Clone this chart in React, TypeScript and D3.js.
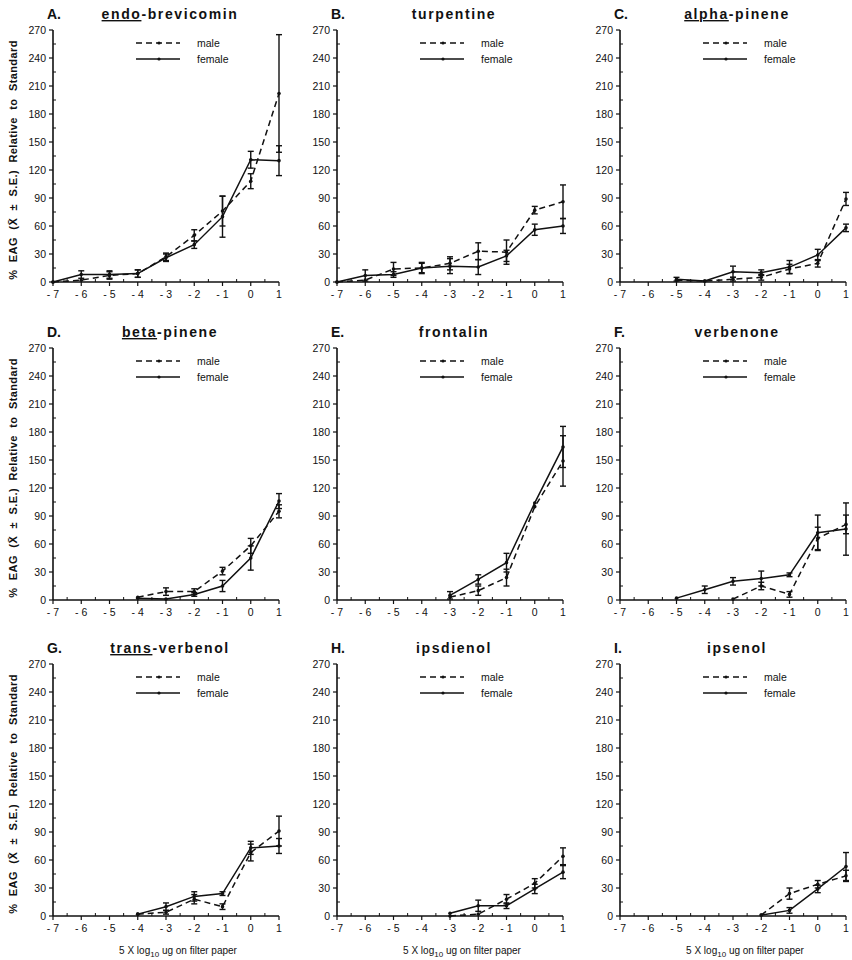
import React from 'react';
import * as d3 from 'd3';

// dose steps on the x axis
const doses = [-7, -6, -5, -4, -3, -2, -1, 0, 1];
const yTicks = [0, 30, 60, 90, 120, 150, 180, 210, 240, 270];

const panelLabels = ['A.', 'B.', 'C.', 'D.', 'E.', 'F.', 'G.', 'H.', 'I.'];
// underlined prefix + rest of the compound name
const titlePre = ['endo', '', 'alpha', 'beta', '', '', 'trans', '', ''];
const titleRest = ['-brevicomin', 'turpentine', '-pinene', '-pinene', 'frontalin', 'verbenone', '-verbenol', 'ipsdienol', 'ipsenol'];

const N = null;
const maleMean = [
  [0, 2, 7, 9, 27, 50, 76, 108, 202],
  [0, 2, 14, 15, 20, 33, 32, 77, 86],
  [N, N, 2, 1, 3, 5, 14, 20, 89],
  [N, N, N, 3, 9, 9, 31, 58, 95],
  [N, N, N, N, 3, 10, 24, 100, 149],
  [N, N, N, N, 1, 15, 6, 66, 81],
  [N, N, N, 2, 4, 18, 10, 68, 91],
  [N, N, N, N, 0, 2, 18, 35, 64],
  [N, N, N, N, N, 1, 24, 34, 43],
];
const maleSE = [
  [0, 0, 4, 4, 4, 6, 16, 8, 63],
  [0, 0, 7, 5, 7, 9, 13, 4, 18],
  [N, N, 0, 0, 2, 3, 5, 4, 7],
  [N, N, N, 0, 4, 3, 4, 8, 7],
  [N, N, N, N, 0, 5, 9, 0, 27],
  [N, N, N, N, 0, 4, 3, 12, 10],
  [N, N, N, 0, 2, 5, 3, 9, 16],
  [N, N, N, N, 0, 0, 5, 5, 9],
  [N, N, N, N, N, 0, 6, 4, 6],
];
const femaleMean = [
  [0, 8, 8, 9, 26, 40, 70, 131, 130],
  [0, 7, 8, 15, 17, 16, 28, 56, 60],
  [N, N, 3, 1, 11, 10, 16, 29, 58],
  [N, N, N, 2, 1, 6, 15, 45, 106],
  [N, N, N, N, 5, 22, 40, 104, 164],
  [N, N, 2, 11, 20, 23, 27, 72, 76],
  [N, N, N, 2, 10, 21, 24, 73, 75],
  [N, N, N, N, 3, 11, 11, 29, 47],
  [N, N, N, N, N, 1, 6, 29, 53],
];
const femaleSE = [
  [0, 4, 4, 4, 4, 4, 22, 9, 16],
  [0, 6, 3, 6, 8, 8, 6, 6, 8],
  [N, N, 2, 0, 6, 3, 7, 6, 4],
  [N, N, N, 0, 0, 2, 6, 13, 8],
  [N, N, N, N, 4, 5, 10, 0, 22],
  [N, N, 0, 4, 4, 8, 2, 19, 28],
  [N, N, N, 0, 4, 5, 2, 7, 8],
  [N, N, N, N, 0, 6, 3, 5, 7],
  [N, N, N, N, N, 0, 3, 4, 15],
];

const colX = [53, 337, 620];
const rowTop = [30, 348, 664];
const W = 226;
const H = 252;
const FONT = '"Liberation Sans", Arial, Helvetica, sans-serif';

function Series({ mean, se, x, y, dashed }) {
  const pts = doses.map((d, i) => ({ d, v: mean[i], s: se[i] })).filter(p => p.v !== null);
  const line = d3.line().x(p => x(p.d)).y(p => y(p.v));
  return (
    <g>
      <path d={line(pts)} fill="none" stroke="#111" strokeWidth={1.5} strokeDasharray={dashed ? '6,4' : null} />
      {pts.filter(p => p.s > 0).map((p, i) => (
        <g key={i} stroke="#111" strokeWidth={1.4}>
          <line x1={x(p.d)} x2={x(p.d)} y1={y(p.v - p.s)} y2={y(p.v + p.s)} />
          <line x1={x(p.d) - 3} x2={x(p.d) + 3} y1={y(p.v - p.s)} y2={y(p.v - p.s)} />
          <line x1={x(p.d) - 3} x2={x(p.d) + 3} y1={y(p.v + p.s)} y2={y(p.v + p.s)} />
        </g>
      ))}
      {pts.map((p, i) => <circle key={i} cx={x(p.d)} cy={y(p.v)} r={1.8} fill="#111" />)}
    </g>
  );
}

function Panel({ idx }) {
  const left = colX[idx % 3];
  const top = rowTop[Math.floor(idx / 3)];
  const x = d3.scaleLinear().domain([-7, 1]).range([left, left + W]);
  const y = d3.scaleLinear().domain([0, 270]).range([top + H, top]);
  const minorX = d3.range(-6.5, 1, 1);
  const minorY = d3.range(15, 270, 30);
  const bottom = top + H;
  return (
    <g fontFamily={FONT} fill="#111">
      <text x={left - 6} y={top - 11} fontSize={14} fontWeight="bold">{panelLabels[idx]}</text>
      <text x={left + W / 2 + 4} y={top - 11} fontSize={14} fontWeight="bold" textAnchor="middle" letterSpacing={1.6}>
        {titlePre[idx] ? <tspan textDecoration="underline">{titlePre[idx]}</tspan> : null}
        <tspan>{titleRest[idx]}</tspan>
      </text>
      {/* axes */}
      <line x1={left} x2={left} y1={top} y2={bottom} stroke="#111" strokeWidth={1.6} />
      <line x1={left} x2={left + W} y1={bottom} y2={bottom} stroke="#111" strokeWidth={1.6} />
      {yTicks.map(t => (
        <g key={t}>
          <line x1={left - 4} x2={left} y1={y(t)} y2={y(t)} stroke="#111" strokeWidth={1.2} />
          <text x={left - 7} y={y(t) + 3.5} fontSize={10.5} textAnchor="end">{t}</text>
        </g>
      ))}
      {minorY.map(t => <line key={t} x1={left} x2={left + 3} y1={y(t)} y2={y(t)} stroke="#111" strokeWidth={1} />)}
      {doses.map(d => (
        <g key={d}>
          <line x1={x(d)} x2={x(d)} y1={bottom} y2={bottom + 4} stroke="#111" strokeWidth={1.2} />
          <text x={x(d)} y={bottom + 16} fontSize={10.5} textAnchor="middle">{d < 0 ? '- ' + Math.abs(d) : String(d)}</text>
        </g>
      ))}
      {minorX.map(d => <line key={d} x1={x(d)} x2={x(d)} y1={bottom} y2={bottom - 3} stroke="#111" strokeWidth={1} />)}
      {/* legend */}
      <g>
        <line x1={left + 83} x2={left + 127} y1={top + 13} y2={top + 13} stroke="#111" strokeWidth={1.5} strokeDasharray="6,4" />
        <circle cx={left + 106} cy={top + 13} r={1.6} fill="#111" />
        <text x={left + 144} y={top + 16.5} fontSize={10.5}>male</text>
        <line x1={left + 83} x2={left + 127} y1={top + 29} y2={top + 29} stroke="#111" strokeWidth={1.5} />
        <circle cx={left + 106} cy={top + 29} r={1.6} fill="#111" />
        <text x={left + 144} y={top + 32.5} fontSize={10.5}>female</text>
      </g>
      <Series mean={maleMean[idx]} se={maleSE[idx]} x={x} y={y} dashed={true} />
      <Series mean={femaleMean[idx]} se={femaleSE[idx]} x={x} y={y} dashed={false} />
      {idx % 3 === 0 ? (
        <text transform={`translate(17,${top + H / 2 + 4}) rotate(-90)`} fontSize={11} fontWeight="bold" textAnchor="middle" wordSpacing={4} letterSpacing={0.4}>
          % EAG (X̄ ± S.E.) Relative to Standard
        </text>
      ) : null}
      {idx >= 6 ? (
        <text x={left + W / 2 + 12} y={bottom + 38} fontSize={10} textAnchor="middle">
          <tspan>5 X log</tspan><tspan fontSize={8} dy={3}>10</tspan><tspan dy={-3}> ug on filter paper</tspan>
        </text>
      ) : null}
    </g>
  );
}

export default function App() {
  return (
    <div style={{ position: 'absolute', left: 0, top: 0, width: 852, height: 960, background: '#fff' }}>
      <svg width={852} height={960}>
        <rect width={852} height={960} fill="#fff" />
        {d3.range(9).map(i => <Panel key={i} idx={i} />)}
      </svg>
    </div>
  );
}
